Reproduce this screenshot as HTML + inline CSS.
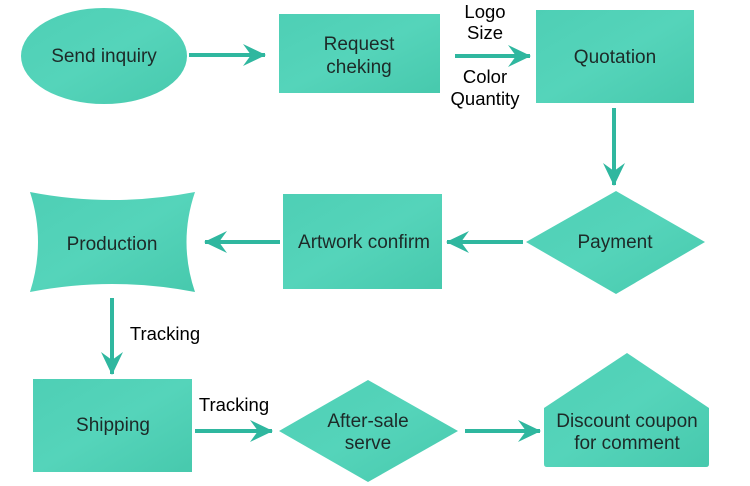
<!DOCTYPE html>
<html><head><meta charset="utf-8"><style>
html,body{margin:0;padding:0;background:#fff;}
svg{display:block;}
text{font-family:"Liberation Sans",sans-serif;font-size:19px;}
.n{fill:#1d2a28;text-anchor:middle;}
.l{fill:#000;text-anchor:middle;font-size:18.5px;}
</style></head><body>
<svg width="750" height="486" viewBox="0 0 750 486" xmlns="http://www.w3.org/2000/svg">
<defs>
<linearGradient id="g" x1="0" y1="0" x2="1" y2="1">
<stop offset="0" stop-color="#4ecfb5"/><stop offset="0.5" stop-color="#55d4ba"/><stop offset="1" stop-color="#47c9ad"/>
</linearGradient>
<marker id="a" markerWidth="24" markerHeight="24" refX="22" refY="12" orient="auto" markerUnits="userSpaceOnUse">
<path d="M0,1 L23,12 L0,23 L8,12 Z" fill="#2fb79f"/>
</marker>
</defs>
<g fill="url(#g)">
<ellipse cx="104" cy="56" rx="83" ry="48"/>
<rect x="279" y="14" width="161" height="79"/>
<rect x="536" y="10" width="158" height="93"/>
<polygon points="616,191 705,242 616,294 526,242"/>
<rect x="283" y="194" width="159" height="95"/>
<path d="M30,192 Q112,208 195,192 Q178,242 195,292 Q112,276 30,292 Q46,242 30,192 Z"/>
<rect x="33" y="379" width="159" height="93"/>
<polygon points="368,380 458,431 368,482 279,431"/>
<path d="M627,353 L709,408 L709,464 Q709,467 706,467 L547,467 Q544,467 544,464 L544,408 Z" stroke-linejoin="round"/>
</g>
<g stroke="#2fb79f" stroke-width="4" fill="none" marker-end="url(#a)">
<line x1="189" y1="55" x2="265" y2="55"/>
<line x1="455" y1="56" x2="530" y2="56"/>
<line x1="614" y1="108" x2="614" y2="185"/>
<line x1="523" y1="242" x2="447" y2="242"/>
<line x1="280" y1="242" x2="205" y2="242"/>
<line x1="112" y1="298" x2="112" y2="374"/>
<line x1="195" y1="431" x2="272" y2="431"/>
<line x1="465" y1="431" x2="540" y2="431"/>
</g>
<text class="n" x="104" y="62">Send inquiry</text>
<text class="n" x="359" y="50">Request</text>
<text class="n" x="359" y="73">cheking</text>
<text class="n" x="615" y="63">Quotation</text>
<text class="n" x="615" y="248">Payment</text>
<text class="n" x="364" y="248">Artwork confirm</text>
<text class="n" x="112" y="250">Production</text>
<text class="n" x="113" y="431">Shipping</text>
<text class="n" x="368" y="427">After-sale</text>
<text class="n" x="368" y="449">serve</text>
<text class="n" x="627" y="427">Discount coupon</text>
<text class="n" x="627" y="449">for comment</text>
<text class="l" x="485" y="18">Logo</text>
<text class="l" x="485" y="39">Size</text>
<text class="l" x="485" y="83">Color</text>
<text class="l" x="485" y="105">Quantity</text>
<text class="l" x="165" y="340">Tracking</text>
<text class="l" x="234" y="411">Tracking</text>
</svg>
</body></html>
